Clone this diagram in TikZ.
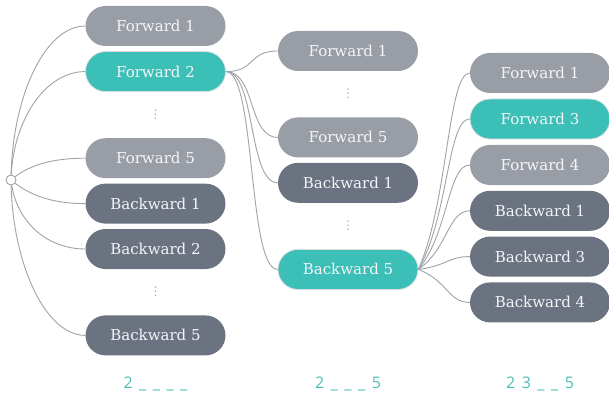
\documentclass[tikz,border=0pt]{standalone}
\usepackage{fontspec}
\newfontfamily\slabfont{DejaVu Serif}
\newfontfamily\labfont{Open Sans}
\newfontfamily\symfont{DejaVu Sans}
\usepackage{xcolor}
\usetikzlibrary{positioning,calc}
\definecolor{fwdgray}{HTML}{989DA6}
\definecolor{bwdgray}{HTML}{6B7280}
\definecolor{selteal}{HTML}{3CBFB7}
\definecolor{seledge}{HTML}{D9DDE0}
\definecolor{nodetext}{HTML}{F4F5F7}
\definecolor{linkgray}{HTML}{9EA2A9}
\definecolor{dotgray}{HTML}{A9ADB3}
\definecolor{labteal}{HTML}{4DBFB6}

\begin{document}
\begin{tikzpicture}
        [
    x=1pt, y=1pt,
    basic/.style={text=nodetext, minimum width=140pt, minimum height=40pt, inner sep=0pt,
                  rounded corners=20pt, font=\slabfont\fontsize{15}{17}\selectfont},
    fwd/.style={basic, fill=fwdgray},
    bwd/.style={basic, fill=bwdgray},
    sel/.style={basic, fill=selteal, draw=seledge, line width=0.8pt},
    skip/.style={text=dotgray, inner sep=0pt, font=\symfont\fontsize{12}{14}\selectfont},
    link/.style={draw=linkgray, line width=0.9pt},
    lab/.style={text=labteal, font={\labfont\fontsize{16}{18}\selectfont\spaceskip 6.5pt\relax}},
    node distance=5pt
    ]
    \useasboundingbox (0,0) rectangle (609,-398);

    % Raiz
    \node [circle, draw=linkgray, fill=white, line width=0.9pt, minimum size=10pt, inner sep=0pt] (root) at (11,-180) {};
    % Primera columna
    \node [fwd] (c1f1) at (155.5,-26) {Forward 1};
    \node [sel, below=of c1f1] (c1f2) {Forward 2};
    \node [fwd, below=46pt of c1f2] (c1f5) {Forward 5};
    \node [bwd, below=of c1f5] (c1b1) {Backward 1};
    \node [bwd, below=of c1b1] (c1b2) {Backward 2};
    \node [bwd, below=46pt of c1b2] (c1b5) {Backward 5};
    \node [skip] (c1gap1) at ($(c1f2)!0.5!(c1f5)$) {⋮};
    \node [skip] (c1gap2) at ($(c1b2)!0.5!(c1b5)$) {⋮};
    \draw [link] (root) .. controls +(2,85) and +(-40,0) .. (c1f1.west);
    \draw [link] (root) .. controls +(3,60) and +(-40,0) .. (c1f2.west);
    \draw [link] (root) .. controls +(18,14) and +(-35,0) .. (c1f5.west);
    \draw [link] (root) .. controls +(18,-14) and +(-35,0) .. (c1b1.west);
    \draw [link] (root) .. controls +(6,-40) and +(-40,0) .. (c1b2.west);
    \draw [link] (root) .. controls +(2,-84) and +(-40,0) .. (c1b5.west);
    % Segunda columna
    \node [fwd] (c2f1) at (348,-51) {Forward 1};
    \node [fwd, below=46pt of c2f1] (c2f5) {Forward 5};
    \node [bwd, below=of c2f5] (c2b1) {Backward 1};
    \node [sel, below=46pt of c2b1] (c2b5) {Backward 5};
    \node [skip] (c2gap1) at ($(c2f1)!0.5!(c2f5)$) {⋮};
    \node [skip] (c2gap2) at ($(c2b1)!0.5!(c2b5)$) {⋮};
    \draw [link] (c1f2.east) .. controls +(30,0) and +(-30,0) .. (c2f1.west);
    \draw [link] (c1f2.east) .. controls +(30,0) and +(-30,0) .. (c2f5.west);
    \draw [link] (c1f2.east) .. controls +(30,0) and +(-30,0) .. (c2b1.west);
    \draw [link] (c1f2.east) .. controls +(30,0) and +(-30,0) .. (c2b5.west);
    % Tercera columna
    \node [fwd] (c3f1) at (540,-73) {Forward 1};
    \node [sel, below=5.4pt of c3f1] (c3f3) {Forward 3};
    \node [fwd, below=5.4pt of c3f3] (c3f4) {Forward 4};
    \node [bwd, below=5.4pt of c3f4] (c3b1) {Backward 1};
    \node [bwd, below=5.4pt of c3b1] (c3b3) {Backward 3};
    \node [bwd, below=5.4pt of c3b3] (c3b4) {Backward 4};
    \draw [link] (c2b5.east) .. controls +(30,68) and +(-22,0) .. (c3f1.west);
    \draw [link] (c2b5.east) .. controls +(30,52) and +(-22,0) .. (c3f3.west);
    \draw [link] (c2b5.east) .. controls +(30,36) and +(-22,0) .. (c3f4.west);
    \draw [link] (c2b5.east) .. controls +(30,21) and +(-22,0) .. (c3b1.west);
    \draw [link] (c2b5.east) .. controls +(30,4) and +(-22,0) .. (c3b3.west);
    \draw [link] (c2b5.east) .. controls +(30,-12) and +(-22,0) .. (c3b4.west);
    % Patrones
    \node [lab] (pat1) at (155.5,-384) {2 \_ \_ \_ \_};
    \node [lab] (pat2) at (c2b5 |- pat1) {2 \_ \_ \_ 5};
    \node [lab] (pat3) at (c3b4 |- pat1) {2 3 \_ \_ 5};
\end{tikzpicture}
\end{document}
